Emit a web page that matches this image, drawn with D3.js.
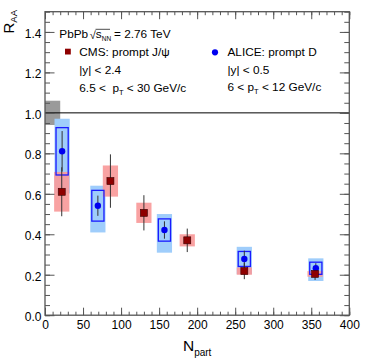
<!DOCTYPE html>
<html><head><meta charset="utf-8">
<script src="https://cdn.jsdelivr.net/npm/d3@7"></script>
<style>
html,body{margin:0;padding:0;background:#fff;}
text{font-family:"Liberation Sans",Arial,Helvetica,sans-serif;fill:#000;white-space:pre;}
</style></head>
<body><svg id="c" width="374" height="359"></svg>
<script>
// ---- data ----
const cmsNpart = [22, 86, 130, 187, 262, 355];
const cmsRaa   = [0.61, 0.663, 0.506, 0.37, 0.218, 0.204];
const cmsStat  = [0.121, 0.132, 0.087, 0.058, 0.040, 0.030];
const cmsSyst  = [0.098, 0.077, 0.050, 0.030, 0.018, 0.014];

const aliceNpart  = [22.5, 69.5, 157, 262, 356];
const aliceRaa    = [0.81, 0.541, 0.421, 0.278, 0.232];
const aliceStat   = [0.100, 0.050, 0.043, 0.041, 0.025];
const aliceSyst   = [0.117, 0.076, 0.055, 0.037, 0.030];
const aliceBandHi = [0.161, 0.099, 0.079, 0.060, 0.049];
const aliceBandLo = [0.208, 0.132, 0.112, 0.075, 0.063];

const globalUnc = 0.06;
const xTicks = [0, 50, 100, 150, 200, 250, 300, 350, 400];
const yTicks = [0.0, 0.2, 0.4, 0.6, 0.8, 1.0, 1.2, 1.4];

// ---- layout ----
const svg = d3.select("#c");
const L = 45, R = 349.3, T = 11.7, B = 315.2;
const x = d3.scaleLinear().domain([0, 400]).range([L, R]);
const y = d3.scaleLinear().domain([0, 1.5]).range([B, T]);
const bandHalf = 10, boxHalf = 8;
const axisCol = "#555";

const g = svg.append("g");

// global uncertainty box
g.append("rect").attr("x", x(0)).attr("width", x(20) - x(0))
  .attr("y", y(1 + globalUnc)).attr("height", y(1 - globalUnc) - y(1 + globalUnc))
  .attr("fill", "#9a9a9a");

const alice = aliceNpart.map((n, i) => ({n, v: aliceRaa[i], s: aliceStat[i], sy: aliceSyst[i], hi: aliceBandHi[i], lo: aliceBandLo[i]}));
const cms = cmsNpart.map((n, i) => ({n, v: cmsRaa[i], s: cmsStat[i], sy: cmsSyst[i]}));

// ALICE light bands
g.selectAll(".ab").data(alice).join("rect")
  .attr("x", d => x(d.n - bandHalf)).attr("width", d => x(d.n + bandHalf) - x(d.n - bandHalf))
  .attr("y", d => y(d.v + d.hi)).attr("height", d => y(d.v - d.lo) - y(d.v + d.hi))
  .attr("fill", "#9fcdfb");

// CMS syst bands
g.selectAll(".cb").data(cms).join("rect")
  .attr("x", d => x(d.n - bandHalf)).attr("width", d => x(d.n + bandHalf) - x(d.n - bandHalf))
  .attr("y", d => y(d.v + d.sy)).attr("height", d => y(d.v - d.sy) - y(d.v + d.sy))
  .attr("fill", "#f99a9a").attr("fill-opacity", 0.92);

// ALICE syst outline boxes
g.selectAll(".ao").data(alice).join("rect")
  .attr("x", d => x(d.n - boxHalf)).attr("width", d => x(d.n + boxHalf) - x(d.n - boxHalf))
  .attr("y", d => y(d.v + d.sy)).attr("height", d => y(d.v - d.sy) - y(d.v + d.sy))
  .attr("fill", "none").attr("stroke", "#1a1aff").attr("stroke-width", 1.3);

// line at 1
g.append("line").attr("x1", x(0)).attr("x2", x(400)).attr("y1", y(1)).attr("y2", y(1))
  .attr("stroke", "#000").attr("stroke-width", 1);

// error bars
g.selectAll(".ae").data(alice).join("line")
  .attr("x1", d => x(d.n)).attr("x2", d => x(d.n))
  .attr("y1", d => y(d.v + d.s)).attr("y2", d => y(d.v - d.s))
  .attr("stroke", "#333").attr("stroke-width", 1);
g.selectAll(".ce").data(cms).join("line")
  .attr("x1", d => x(d.n)).attr("x2", d => x(d.n))
  .attr("y1", d => y(d.v + d.s)).attr("y2", d => y(d.v - d.s))
  .attr("stroke", "#333").attr("stroke-width", 1);

// markers
g.selectAll(".am").data(alice).join("circle")
  .attr("cx", d => x(d.n)).attr("cy", d => y(d.v)).attr("r", 3.2)
  .attr("fill", "#0000f0");
g.selectAll(".cm").data(cms).join("rect")
  .attr("x", d => x(d.n) - 3.5).attr("y", d => y(d.v) - 3.5)
  .attr("width", 7).attr("height", 7)
  .attr("fill", "#8e0000").attr("stroke", "#3a0000").attr("stroke-width", 0.6);

// ---- axes ----
const xMinor = d3.range(0, 401, 10);
const yMinor = d3.range(0, 1.5001, 0.05).map(v => +v.toFixed(2));
function styleAxis(sel) {
  sel.select(".domain").remove();
  sel.selectAll("line").attr("stroke", axisCol).attr("stroke-width", 1);
}
// bottom
svg.append("g").attr("transform", `translate(0,${B})`)
  .call(d3.axisBottom(x).tickValues(xMinor).tickSize(-3.5).tickFormat(""))
  .call(styleAxis).selectAll("text").remove();
svg.append("g").attr("transform", `translate(0,${B})`)
  .call(d3.axisBottom(x).tickValues(xTicks).tickSize(-7.5).tickPadding(4.8).tickFormat(d3.format("d")))
  .call(styleAxis)
  .selectAll("text").attr("font-size", 12).attr("fill", "#000")
  .style("font-family", "'Liberation Sans',Arial,sans-serif");
// top
svg.append("g").attr("transform", `translate(0,${T})`)
  .call(d3.axisTop(x).tickValues(xMinor).tickSize(-3.5).tickFormat(""))
  .call(styleAxis);
svg.append("g").attr("transform", `translate(0,${T})`)
  .call(d3.axisTop(x).tickValues(xTicks).tickSize(-7.5).tickFormat(""))
  .call(styleAxis);
// left
svg.append("g").attr("transform", `translate(${L},0)`)
  .call(d3.axisLeft(y).tickValues(yMinor).tickSize(-5).tickFormat(""))
  .call(styleAxis);
svg.append("g").attr("transform", `translate(${L},0)`)
  .call(d3.axisLeft(y).tickValues(yTicks).tickSize(-9.5).tickPadding(3.5).tickFormat(d3.format(".1f")))
  .call(styleAxis)
  .selectAll("text").attr("font-size", 12).attr("fill", "#000").attr("dy", "0.45em")
  .style("font-family", "'Liberation Sans',Arial,sans-serif");
// right
svg.append("g").attr("transform", `translate(${R},0)`)
  .call(d3.axisRight(y).tickValues(yMinor).tickSize(-5).tickFormat(""))
  .call(styleAxis);
svg.append("g").attr("transform", `translate(${R},0)`)
  .call(d3.axisRight(y).tickValues(yTicks).tickSize(-9.5).tickFormat(""))
  .call(styleAxis);

// frame
svg.append("rect").attr("x", L).attr("y", T).attr("width", R - L).attr("height", B - T)
  .attr("fill", "none").attr("stroke", axisCol).attr("stroke-width", 1.3);

// axis titles
const xt = svg.append("text").attr("x", (L + R) / 2).attr("y", 351).attr("text-anchor", "middle");
xt.append("tspan").attr("font-size", 15.5).text("N");
xt.append("tspan").attr("font-size", 10).attr("dy", 4.5).text("part");

const yt = svg.append("text").attr("transform", `translate(13.5,10) rotate(-90)`).attr("text-anchor", "end");
yt.append("tspan").attr("font-size", 15).text("R");
yt.append("tspan").attr("font-size", 9.5).attr("dy", 3).text("AA");

// ---- legend ----
const fs = 11.8;
svg.append("text").attr("x", 59.3).attr("y", 38).attr("font-size", fs).text("PbPb");
svg.append("text").attr("x", 89.8).attr("y", 38.5).attr("font-size", 11).text("√");
svg.append("line").attr("x1", 95.5).attr("x2", 110).attr("y1", 29.3).attr("y2", 29.3)
  .attr("stroke", "#000").attr("stroke-width", 0.7);
const sq = svg.append("text").attr("x", 95.8).attr("y", 38).attr("font-size", fs);
sq.append("tspan").text("s");
sq.append("tspan").attr("font-size", 6.5).attr("dy", 3).text("NN");
svg.append("text").attr("x", 114).attr("y", 38).attr("font-size", fs).text("= 2.76 TeV");

svg.append("rect").attr("x", 65).attr("y", 48.7).attr("width", 5.8).attr("height", 5.8).attr("fill", "#8e0000");
svg.append("text").attr("x", 79.3).attr("y", 56).attr("font-size", fs).text("CMS: prompt J/ψ");
svg.append("text").attr("x", 79.3).attr("y", 74).attr("font-size", fs).text("|y| < 2.4");
const c3 = svg.append("text").attr("x", 79.3).attr("y", 91.5).attr("font-size", fs);
c3.append("tspan").text("6.5 <  p");
c3.append("tspan").attr("font-size", 7.5).attr("dy", 3).text("T");
c3.append("tspan").attr("dy", -3).text(" < 30 GeV/c");

svg.append("circle").attr("cx", 215).attr("cy", 52.3).attr("r", 3.1).attr("fill", "#0000f0");
svg.append("text").attr("x", 227.5).attr("y", 55.5).attr("font-size", fs).text("ALICE: prompt D");
svg.append("text").attr("x", 227.5).attr("y", 73.5).attr("font-size", fs).text("|y| < 0.5");
const a3 = svg.append("text").attr("x", 227.5).attr("y", 90.5).attr("font-size", fs);
a3.append("tspan").text("6 < p");
a3.append("tspan").attr("font-size", 7.5).attr("dy", 3).text("T");
a3.append("tspan").attr("dy", -3).text(" < 12 GeV/c");
</script></body></html>
